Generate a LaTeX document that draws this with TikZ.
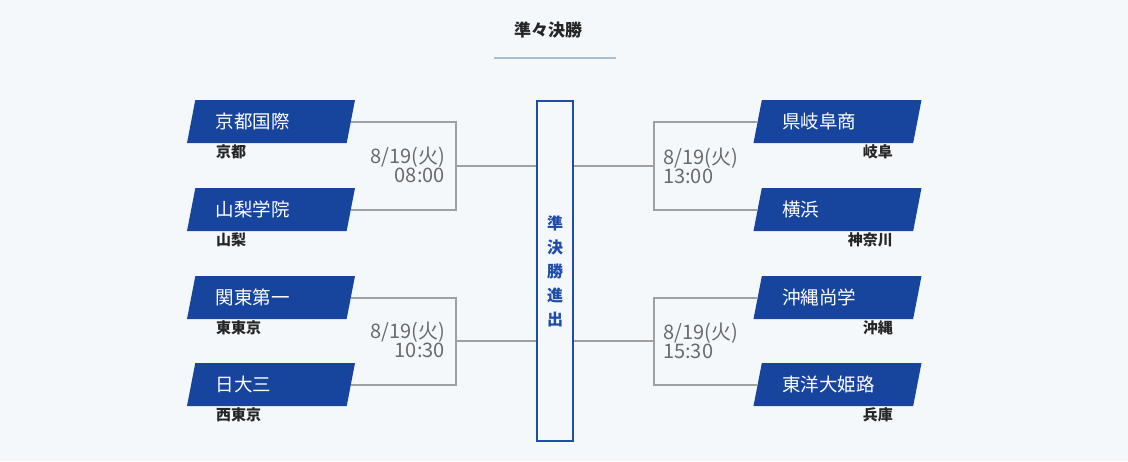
\documentclass[tikz,border=0pt]{standalone}
\usepackage{fontspec}
\setmainfont{Noto Sans CJK JP}
\usepackage{xcolor}
\usetikzlibrary{shapes.geometric}

\definecolor{teamblue}{HTML}{17449C}
\definecolor{boxblue}{HTML}{1F4CA8}
\definecolor{linegray}{HTML}{A0A0A0}
\definecolor{dategray}{HTML}{6A6A6A}
\definecolor{rulecol}{HTML}{A9BDD0}
\definecolor{bgcol}{HTML}{F5F8FB}

\begin{document}
\begin{tikzpicture}[
    x=1pt, y=-1pt,
    team/.style={trapezium, trapezium left angle=64, trapezium right angle=116,
        trapezium stretches body, fill=teamblue, text=white, inner sep=0pt,
        minimum width=168pt, minimum height=43pt, text width=111pt, align=left,
        font=\fontsize{18.5}{20}\selectfont},
    pref/.style={text=black!85, inner sep=0pt, font=\fontsize{15}{17}\selectfont\bfseries},
    date/.style={text=dategray, inner sep=0pt, font=\fontsize{20}{17}\selectfont},
    line/.style={draw=linegray, line width=2pt}
]
\fill[bgcol] (0,0) rectangle (1128,461);
\useasboundingbox (0,0) rectangle (1128,461);

% title
\node[font=\fontsize{17}{19}\selectfont\bfseries, text=black!85] (title) at (548,30) {準々決勝};
\draw[draw=rulecol, line width=2pt] (494,58) -- (616,58);

% centre box
\node[draw=boxblue, line width=1.05pt, minimum width=36pt, minimum height=340pt, inner sep=0pt,
    text=boxblue, align=center, font=\fontsize{16}{24}\selectfont\bfseries] (semi) at (555,271)
    {準\\決\\勝\\進\\出};

% left side
\node[team] (kyoto) at (271,121.5) {京都国際};
\node[team] (yamanashi) at (271,209.5) {山梨学院};
\node[team] (kanto) at (271,297.5) {関東第一};
\node[team] (nichidai) at (271,384.5) {日大三};
\node[pref, anchor=west] (p1) at (216,152) {京都};
\node[pref, anchor=west] (p2) at (216,240) {山梨};
\node[pref, anchor=west] (p3) at (216,328) {東東京};
\node[pref, anchor=west] (p4) at (216,415) {西東京};

\coordinate (m1) at (456,166);
\coordinate (m2) at (456,341);
\draw[line] (kyoto.east) -| (m1) |- (yamanashi.east);
\draw[line] (m1) -- (semi.west |- m1);
\draw[line] (kanto.east) -| (m2) |- (nichidai.east);
\draw[line] (m2) -- (semi.west |- m2);
\node[date, anchor=east, align=right] (d1) at (445,165) {8/19(火)\\08:00};
\node[date, anchor=east, align=right] (d2) at (445,340) {8/19(火)\\10:30};

% right side
\node[team] (gifu) at (837.5,121.5) {県岐阜商};
\node[team] (yokohama) at (837.5,209.5) {横浜};
\node[team] (okinawa) at (837.5,297.5) {沖縄尚学};
\node[team] (himeji) at (837.5,384.5) {東洋大姫路};
\node[pref, anchor=east] (p5) at (893,152) {岐阜};
\node[pref, anchor=east] (p6) at (893,240) {神奈川};
\node[pref, anchor=east] (p7) at (893,328) {沖縄};
\node[pref, anchor=east] (p8) at (893,415) {兵庫};

\coordinate (m3) at (654,166);
\coordinate (m4) at (654,341);
\draw[line] (gifu.west) -| (m3) |- (yokohama.west);
\draw[line] (semi.east |- m3) -- (m3);
\draw[line] (okinawa.west) -| (m4) |- (himeji.west);
\draw[line] (semi.east |- m4) -- (m4);
\node[date, anchor=west, align=left] (d3) at (663,166) {8/19(火)\\13:00};
\node[date, anchor=west, align=left] (d4) at (663,341) {8/19(火)\\15:30};
\end{tikzpicture}
\end{document}
